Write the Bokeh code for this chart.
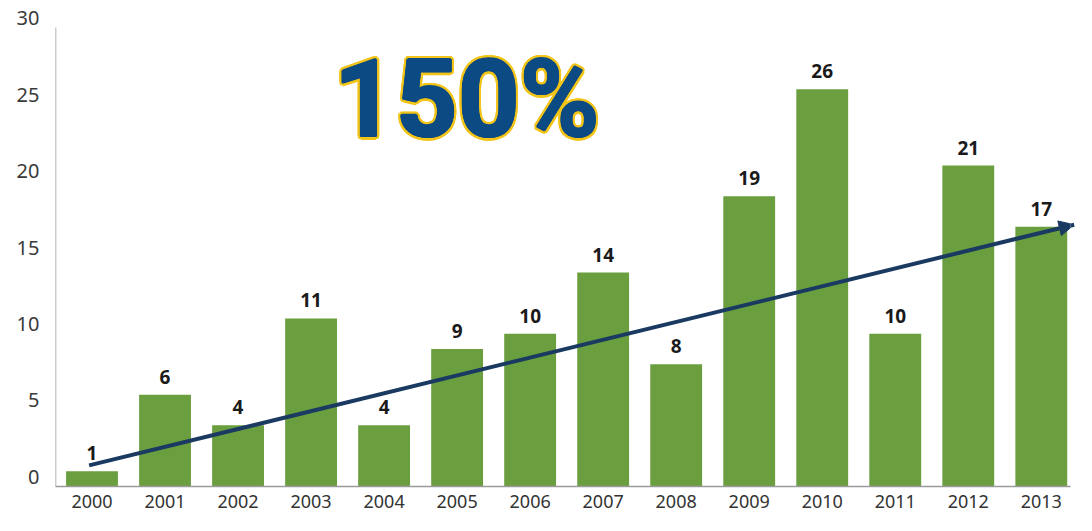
import math
from bokeh.plotting import figure
from bokeh.models import ColumnDataSource, FixedTicker, Range1d, Arrow, NormalHead
from bokeh.core.properties import value
from bokeh.embed import file_html
from bokeh.resources import INLINE

# ---- data ----
years = [2000, 2001, 2002, 2003, 2004, 2005, 2006, 2007, 2008, 2009, 2010, 2011, 2012, 2013]
counts = [1, 6, 4, 11, 4, 9, 10, 14, 8, 19, 26, 10, 21, 17]
y_ticks = [0, 5, 10, 15, 20, 25, 30]
trend_x = [1999.96, 2013.45]
trend_y = [0.75, 16.5]
headline = "150%"

# ---- style constants ----
BASE = -0.63          # baseline of the value axis (bars start here)
AXIS_TOP = 29.4
BAR_COLOR = "#6a9e3f"
NAVY = "#1b3a62"
AXIS_GREY = "#9a9a9a"

src = ColumnDataSource(dict(x=years,
                            top=[c + BASE for c in counts],
                            bottom=[BASE] * len(counts),
                            label=[str(c) for c in counts]))

p = figure(width=1076, height=515, output_backend="svg", toolbar_location=None,
           x_range=Range1d(1999.5, 2013.4), y_range=Range1d(BASE, 31.04),
           min_border_left=55, min_border_right=6, min_border_top=2, min_border_bottom=29)
p.outline_line_color = None
p.grid.visible = False

p.vbar(x="x", top="top", bottom="bottom", width=0.71, source=src,
       fill_color=BAR_COLOR, line_color=None)

p.text(x="x", y="top", text="label", source=src, text_align="center",
       text_baseline="bottom", y_offset=-11, text_font=value("Noto Sans"),
       text_font_style="bold", text_font_size="19px", text_color="#1a1a1a")

# left axis line (stops below the top tick)
p.segment(x0=[1999.5], y0=[BASE], x1=[1999.5], y1=[AXIS_TOP],
          line_color=AXIS_GREY, line_width=1.5)

# trend arrow
p.add_layout(Arrow(end=NormalHead(size=15, fill_color=NAVY, line_color=NAVY),
                   x_start=trend_x[0], y_start=trend_y[0],
                   x_end=trend_x[1], y_end=trend_y[1],
                   line_color=NAVY, line_width=4))

# headline with a gold outline (gold ring underneath, navy on top)
HX, HY = 2005.13, 24.7
ring_n = 16
ring = dict(x=[HX] * ring_n, y=[HY] * ring_n, t=[headline] * ring_n,
            dx=[3.2 * math.cos(2 * math.pi * k / ring_n) for k in range(ring_n)],
            dy=[3.2 * math.sin(2 * math.pi * k / ring_n) for k in range(ring_n)])
p.text(x="x", y="y", text="t", x_offset="dx", y_offset="dy",
       source=ColumnDataSource(ring), text_align="center",
       text_baseline="alphabetic", text_font=value("Roboto"),
       text_font_style="bold", text_font_size="108px", text_color="#f2c418")
inner_n = 8
inner = dict(x=[HX] * inner_n, y=[HY] * inner_n, t=[headline] * inner_n,
             dx=[1.0 * math.cos(2 * math.pi * k / inner_n) for k in range(inner_n)],
             dy=[1.0 * math.sin(2 * math.pi * k / inner_n) for k in range(inner_n)])
p.text(x="x", y="y", text="t", x_offset="dx", y_offset="dy",
       source=ColumnDataSource(inner), text_align="center",
       text_baseline="alphabetic", text_font=value("Roboto"),
       text_font_style="bold", text_font_size="108px", text_color="#0c4a84")

# axes
p.xaxis.ticker = FixedTicker(ticks=years)
p.xaxis.major_label_overrides = {y: str(y) for y in years}
p.xaxis.axis_line_color = AXIS_GREY
p.xaxis.axis_line_width = 1.5
p.xaxis.major_tick_line_color = None
p.xaxis.minor_tick_line_color = None
p.xaxis.major_label_standoff = 2
p.xaxis.major_label_text_font = "Noto Sans"
p.xaxis.major_label_text_font_size = "18px"
p.xaxis.major_label_text_color = "#333333"

p.yaxis.ticker = FixedTicker(ticks=y_ticks)
p.yaxis.axis_line_color = None
p.yaxis.major_tick_line_color = None
p.yaxis.minor_tick_line_color = None
p.yaxis.major_label_standoff = 10
p.yaxis.major_label_text_font = "Noto Sans"
p.yaxis.major_label_text_font_size = "20px"
p.yaxis.major_label_text_color = "#3a3a3a"

open("out.html", "w").write(file_html(p, INLINE))
